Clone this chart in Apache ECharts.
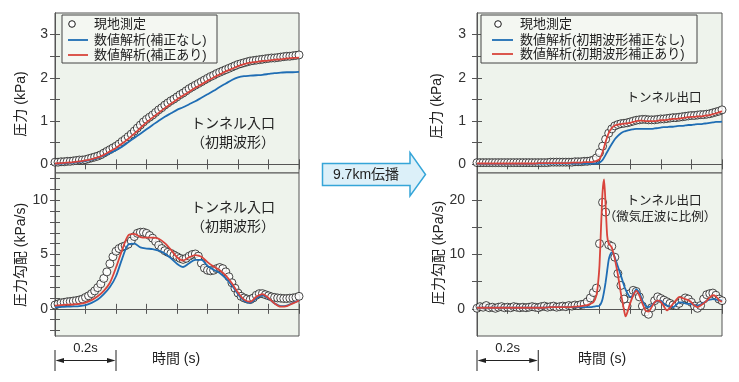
<!DOCTYPE html>
<html><head><meta charset="utf-8">
<script src="https://cdn.jsdelivr.net/npm/echarts@6/dist/echarts.min.js"></script>
<style>html,body{margin:0;padding:0;background:#fff}#c{width:739px;height:382px}</style>
</head><body><div id="c"></div>
<script>
const FONT = "'Liberation Sans','Noto Sans CJK JP',sans-serif";

// time axes (s)
const time01 = [0,0.01,0.02,0.03,0.04,0.05,0.06,0.07,0.08,0.09,
  0.10,0.11,0.12,0.13,0.14,0.15,0.16,0.17,0.18,0.19,
  0.20,0.21,0.22,0.23,0.24,0.25,0.26,0.27,0.28,0.29,
  0.30,0.31,0.32,0.33,0.34,0.35,0.36,0.37,0.38,0.39,
  0.40,0.41,0.42,0.43,0.44,0.45,0.46,0.47,0.48,0.49,
  0.50,0.51,0.52,0.53,0.54,0.55,0.56,0.57,0.58,0.59,
  0.60,0.61,0.62,0.63,0.64,0.65,0.66,0.67,0.68,0.69,
  0.70,0.71,0.72,0.73,0.74,0.75,0.76,0.77,0.78,0.79,0.80];
const time02 = [0,0.02,0.04,0.06,0.08,0.10,0.12,0.14,0.16,0.18,
  0.20,0.22,0.24,0.26,0.28,0.30,0.32,0.34,0.36,0.38,
  0.40,0.42,0.44,0.46,0.48,0.50,0.52,0.54,0.56,0.58,
  0.60,0.62,0.64,0.66,0.68,0.70,0.72,0.74,0.76,0.78,0.80];
const exitGradLineTime = [0,0.02,0.04,0.06,0.08,0.10,0.12,0.14,0.16,0.18,0.20,0.22,0.24,0.26,0.28,0.30,0.32,0.34,0.36,
  0.37,0.38,0.39,
  0.395,0.40,0.405,0.41,0.415,0.42,0.425,0.43,0.435,0.44,0.445,0.45,
  0.46,0.47,0.475,0.48,0.485,0.49,
  0.50,0.51,0.52,0.53,0.54,0.55,0.56,0.57,0.58,0.59,
  0.60,0.61,0.62,0.63,0.64,0.65,0.66,0.67,0.68,0.69,
  0.70,0.71,0.72,0.73,0.74,0.75,0.76,0.77,0.78,0.79,0.80];

// Tunnel entrance: pressure (kPa)
const entrancePressureMeasured = [0.05,0.05,0.06,0.06,0.07,0.07,0.08,0.09,0.10,0.10,
  0.11,0.13,0.15,0.17,0.19,0.22,0.26,0.30,0.34,0.38,
  0.42,0.47,0.53,0.58,0.64,0.70,0.77,0.84,0.91,0.98,
  1.04,1.09,1.14,1.20,1.26,1.31,1.37,1.42,1.47,1.51,
  1.56,1.61,1.65,1.70,1.75,1.79,1.83,1.87,1.91,1.95,
  1.99,2.03,2.06,2.10,2.13,2.16,2.19,2.22,2.25,2.28,
  2.31,2.33,2.35,2.37,2.39,2.40,2.41,2.42,2.43,2.44,
  2.45,2.46,2.46,2.47,2.48,2.49,2.50,2.50,2.51,2.52,2.53];
const entrancePressureNoCorr = [0.01,0.02,0.03,0.04,0.06,0.08,0.11,0.15,0.20,0.26,
  0.33,0.41,0.51,0.61,0.71,0.81,0.91,1.01,1.10,1.18,
  1.26,1.32,1.39,1.46,1.54,1.62,1.70,1.79,1.87,1.95,
  2.01,2.04,2.05,2.06,2.07,2.09,2.11,2.12,2.13,2.13,2.14];
const entrancePressureCorr = [0.02,0.03,0.04,0.05,0.07,0.09,0.12,0.16,0.22,0.30,
  0.38,0.48,0.59,0.71,0.84,0.97,1.08,1.19,1.30,1.40,
  1.50,1.59,1.68,1.77,1.85,1.93,2.01,2.08,2.15,2.21,
  2.27,2.32,2.35,2.37,2.39,2.40,2.42,2.43,2.45,2.46,2.47];

// Tunnel entrance: pressure gradient (kPa/s)
const entranceGradMeasured = [0.35,0.45,0.55,0.60,0.65,0.68,0.72,0.76,0.82,0.90,
  1.05,1.20,1.40,1.65,1.95,2.30,2.80,3.40,4.15,4.80,
  5.30,5.55,5.70,5.80,5.95,6.25,6.65,6.95,7.05,7.05,
  6.95,6.75,6.50,6.20,5.85,5.55,5.35,5.20,5.10,4.95,
  4.80,4.65,4.55,4.65,4.85,5.00,5.05,4.85,4.20,3.75,
  3.55,3.50,3.55,3.70,3.80,3.70,3.40,2.95,2.40,1.90,
  1.45,1.15,1.00,0.90,0.85,1.00,1.25,1.40,1.40,1.30,
  1.20,1.10,1.05,1.00,0.98,0.95,0.95,0.98,1.00,1.05,1.15];
const entranceGradNoCorr = [0.15,0.18,0.20,0.22,0.25,0.35,0.55,0.85,1.35,2.00,
  3.00,4.60,5.90,6.00,5.65,5.55,5.50,5.35,5.10,4.65,
  4.15,3.85,4.20,4.50,4.50,3.95,3.60,3.30,2.80,2.15,
  1.35,0.75,0.55,0.95,1.25,0.95,0.50,0.25,0.30,0.55,0.75];
const entranceGradCorr = [0.30,0.35,0.38,0.40,0.45,0.58,0.80,1.15,1.65,2.40,
  3.80,5.40,6.75,6.90,6.60,6.55,6.55,6.45,6.05,5.45,
  4.75,4.45,4.75,4.95,4.80,4.30,3.90,3.55,3.05,2.35,
  1.50,0.85,0.65,1.10,1.35,1.00,0.50,0.20,0.25,0.50,0.75];

// Tunnel exit: pressure (kPa)
const exitPressureMeasured = [0.04,0.04,0.04,0.04,0.04,0.04,0.04,0.04,0.04,0.04,
  0.04,0.04,0.04,0.04,0.04,0.04,0.04,0.04,0.04,0.04,
  0.04,0.04,0.04,0.04,0.05,0.05,0.05,0.05,0.05,0.05,
  0.05,0.05,0.06,0.06,0.06,0.07,0.07,0.08,0.10,0.15,
  0.27,0.42,0.58,0.72,0.82,0.89,0.92,0.94,0.95,0.96,
  0.98,1.00,1.02,1.03,1.04,1.04,1.03,1.03,1.03,1.04,
  1.05,1.05,1.06,1.07,1.08,1.08,1.09,1.10,1.11,1.12,
  1.13,1.13,1.14,1.15,1.15,1.16,1.17,1.19,1.21,1.23,1.26];
const exitPressureNoCorr = [0.01,0.01,0.01,0.01,0.01,0.01,0.01,0.01,0.01,0.01,
  0.01,0.01,0.01,0.01,0.01,0.01,0.01,0.01,0.01,0.01,
  0.02,0.02,0.02,0.02,0.02,0.02,0.02,0.02,0.02,0.02,
  0.02,0.02,0.02,0.02,0.02,0.02,0.02,0.02,0.02,0.02,
  0.04,0.10,0.22,0.35,0.47,0.58,0.66,0.72,0.76,0.78,
  0.80,0.81,0.82,0.82,0.82,0.82,0.82,0.82,0.83,0.84,
  0.85,0.86,0.86,0.87,0.87,0.88,0.89,0.89,0.90,0.91,
  0.91,0.92,0.93,0.93,0.94,0.95,0.96,0.97,0.98,0.98,0.99];
const exitPressureCorr = [0.02,0.02,0.02,0.02,0.02,0.02,0.02,0.02,0.02,0.02,
  0.02,0.02,0.02,0.02,0.02,0.02,0.02,0.02,0.02,0.02,
  0.03,0.03,0.03,0.03,0.03,0.03,0.03,0.03,0.03,0.03,
  0.03,0.04,0.04,0.04,0.04,0.05,0.05,0.05,0.06,0.08,
  0.12,0.28,0.52,0.72,0.84,0.90,0.92,0.93,0.94,0.95,
  0.96,0.98,1.00,1.01,1.01,1.00,1.00,1.00,1.00,1.01,
  1.02,1.02,1.03,1.04,1.05,1.05,1.06,1.07,1.08,1.09,
  1.10,1.10,1.11,1.11,1.12,1.13,1.14,1.16,1.18,1.20,1.23];

// Tunnel exit: pressure gradient (kPa/s)
const exitGradMeasured = [0.1,0.4,0.3,0.6,0.2,0.3,0.1,0.3,0.4,0.2,
  0.3,0.2,0.4,0.3,0.2,0.3,0.2,0.3,0.4,0.3,
  0.2,0.4,0.5,0.3,0.4,0.5,0.3,0.4,0.5,0.4,
  0.6,0.5,0.7,0.6,0.8,0.9,1.3,2.0,3.0,3.8,
  12.0,19.6,17.8,11.8,11.5,9.5,6.5,4.3,1.8,0.5,
  2.8,3.4,3.2,2.2,0.5,-0.6,-1.0,0.2,1.5,2.2,
  1.9,1.6,1.3,1.0,0.7,0.6,1.0,1.6,2.0,1.8,
  1.2,0.5,0.1,0.6,1.8,2.6,2.8,2.9,2.5,1.8,1.5];
const exitGradNoCorr = [0.2,0.2,0.2,0.2,0.2,0.2,0.2,0.2,0.2,0.2,0.2,0.2,0.3,0.3,0.3,0.3,0.3,0.3,0.3,
  0.3,0.4,0.5,
  0.5,0.6,1.0,1.8,3.2,4.9,7.0,9.0,10.0,10.4,10.1,9.5,
  7.8,6.1,5.2,4.3,3.6,3.0,
  2.2,2.6,3.6,3.0,1.5,0.6,0.3,0.6,1.2,1.4,
  1.5,1.0,0.6,0.4,0.3,0.7,1.2,1.2,1.0,0.9,
  0.9,0.7,0.6,0.8,1.1,1.5,1.7,1.8,1.7,1.6,1.5];
const exitGradCorr = [0.2,0.2,0.2,0.2,0.2,0.2,0.2,0.2,0.2,0.2,0.2,0.2,0.3,0.3,0.3,0.3,0.4,0.5,0.7,
  0.9,1.2,2.5,
  4.5,8.0,15.0,21.5,23.8,19.0,13.5,12.0,11.7,11.3,10.3,9.2,
  6.3,2.8,1.3,-0.2,-1.4,-0.8,
  1.0,2.5,3.3,2.5,1.0,-0.3,-0.5,0.3,1.2,1.5,
  1.3,0.5,-0.3,0.2,0.9,1.6,2.2,2.0,1.8,1.6,
  1.2,0.6,0.3,0.6,1.0,1.5,2.1,2.5,2.3,1.6,1.3];

// tick / label values
const pressureLabels = [0,1,2,3];
const pressureTicks = [0,0.5,1,1.5,2,2.5,3];
const entranceGradLabels = [0,5,10];
const entranceGradTicks = [-2,-1,0,1,2,3,4,5,6,7,8,9,10,11,12];
const exitGradLabels = [0,10,20];
const exitGradTicks = [0,5,10,15,20];

const legendLeft = ['現地測定','数値解析(補正なし)','数値解析(補正あり)'];
const legendRight = ['現地測定','数値解析(初期波形補正なし)','数値解析(初期波形補正あり)'];

const BLUE = '#1f6db4', RED = '#d9443c', FRAME = '#555', BG = '#eef3ec';

const pairs = (t, v) => t.map((x, i) => [x, v[i]]);

const grids = [
  {left:55, top:13, width:244, height:160},
  {left:55, top:173, width:244, height:163},
  {left:477, top:13, width:245, height:160},
  {left:477, top:173, width:245, height:163}
].map(g => Object.assign(g, {show:true, backgroundColor:BG, borderColor:FRAME, borderWidth:1}));

const xAxis = [];
grids.forEach((g, i) => {
  ['bottom','top'].forEach(pos => xAxis.push({
    type:'value', gridIndex:i, position:pos, min:0, max:0.8, interval:0.1,
    axisLine:{show:true, lineStyle:{color:FRAME}},
    axisTick:{show:true, inside:true, length:5, lineStyle:{color:FRAME}},
    axisLabel:{show:false}, splitLine:{show:false}
  }));
});

const yDefs = [
  {min:-0.2, max:3.5, labels:pressureLabels, ticks:pressureTicks, margin:7},
  {min:-2.5, max:12.5, labels:entranceGradLabels, ticks:entranceGradTicks, margin:7},
  {min:-0.2, max:3.5, labels:pressureLabels, ticks:pressureTicks, margin:11},
  {min:-5, max:25, labels:exitGradLabels, ticks:exitGradTicks, margin:12}
];
const yAxis = [];
yDefs.forEach((d, i) => {
  ['left','right'].forEach(pos => yAxis.push({
    type:'value', gridIndex:i, position:pos, min:d.min, max:d.max,
    axisLine:{show:true, lineStyle:{color:FRAME}},
    axisTick:{show:true, inside:true, length:5, customValues:d.ticks, lineStyle:{color:FRAME}},
    axisLabel:{show:pos==='left', customValues:d.labels, margin:d.margin, fontSize:14, color:'#333', fontFamily:FONT},
    splitLine:{show:false}
  }));
});

function circles(name, gi, data) {
  return {name, type:'scatter', xAxisIndex:gi*2, yAxisIndex:gi*2, data,
    symbol:'circle', symbolSize:8,
    itemStyle:{color:'#fff', borderColor:'#1a1a1a', borderWidth:1}, z:2};
}
function curve(name, gi, data, color, smooth) {
  return {name, type:'line', xAxisIndex:gi*2, yAxisIndex:gi*2, data,
    symbol:'none', showSymbol:false, smooth:smooth,
    lineStyle:{color, width:1.8}, itemStyle:{color}, z:3};
}

const series = [
  circles(legendLeft[0], 0, pairs(time01, entrancePressureMeasured)),
  curve(legendLeft[1], 0, pairs(time02, entrancePressureNoCorr), BLUE, 0.3),
  curve(legendLeft[2], 0, pairs(time02, entrancePressureCorr), RED, 0.3),
  circles(legendLeft[0], 1, pairs(time01, entranceGradMeasured)),
  curve(legendLeft[1], 1, pairs(time02, entranceGradNoCorr), BLUE, 0.3),
  curve(legendLeft[2], 1, pairs(time02, entranceGradCorr), RED, 0.3),
  circles(legendRight[0], 2, pairs(time01, exitPressureMeasured)),
  curve(legendRight[1], 2, pairs(time01, exitPressureNoCorr), BLUE, 0.2),
  curve(legendRight[2], 2, pairs(time01, exitPressureCorr), RED, 0.2),
  circles(legendRight[0], 3, pairs(time01, exitGradMeasured)),
  curve(legendRight[1], 3, pairs(exitGradLineTime, exitGradNoCorr), BLUE, 0.2),
  curve(legendRight[2], 3, pairs(exitGradLineTime, exitGradCorr), RED, 0.2)
];

const chart = echarts.init(document.getElementById('c'));
chart.setOption({animation:false, grid:grids, xAxis, yAxis, series});

// ---------- graphics: names, legends, annotations, arrow, time scale ----------
const T = (text, x, y, size, opts) => Object.assign({type:'text', x, y, z:20,
  style:Object.assign({text, fontSize:size, fontFamily:FONT, fill:'#222', align:'center', verticalAlign:'middle'}, opts && opts.style || {})},
  opts && opts.extra || {});
const vText = (text, x, y) => ({type:'text', x, y, rotation:Math.PI/2, z:20,
  style:{text, fontSize:14, fontFamily:FONT, fill:'#222', align:'center', verticalAlign:'middle'}});

function legendBox(x, y, w, h, names, symX, lineX0, lineX1, textX, rows) {
  const els = [{type:'rect', shape:{x, y, width:w, height:h}, z:15,
    style:{fill:'#f4f7f2', stroke:'#444', lineWidth:1}}];
  els.push({type:'circle', shape:{cx:symX, cy:rows[0], r:3.3}, z:16, style:{fill:'#fff', stroke:'#1a1a1a', lineWidth:1}});
  els.push({type:'line', shape:{x1:lineX0, y1:rows[1], x2:lineX1, y2:rows[1]}, z:16, style:{stroke:BLUE, lineWidth:1.8}});
  els.push({type:'line', shape:{x1:lineX0, y1:rows[2], x2:lineX1, y2:rows[2]}, z:16, style:{stroke:RED, lineWidth:1.8}});
  names.forEach((n, i) => els.push(T(n, textX, rows[i], 13, {style:{align:'left'}})));
  return els;
}

function timeScale(xAxisIndex, textCenterX) {
  const a = chart.convertToPixel({xAxisIndex}, 0);
  const b = chart.convertToPixel({xAxisIndex}, 0.2);
  const c = '#222';
  return [
    {type:'line', shape:{x1:a, y1:350, x2:a, y2:371}, style:{stroke:c, lineWidth:1}},
    {type:'line', shape:{x1:b, y1:350, x2:b, y2:371}, style:{stroke:c, lineWidth:1}},
    {type:'line', shape:{x1:a+2, y1:360.5, x2:b-2, y2:360.5}, style:{stroke:c, lineWidth:1}},
    {type:'polygon', shape:{points:[[a+0.5,360.5],[a+9,358],[a+9,363]]}, style:{fill:c}},
    {type:'polygon', shape:{points:[[b-0.5,360.5],[b-9,358],[b-9,363]]}, style:{fill:c}},
    T('0.2s', (a+b)/2, 348, 13),
    T('時間 (s)', textCenterX, 359, 14)
  ];
}

const graphic = [].concat(
  [vText('圧力 (kPa)', 21, 104), vText('圧力勾配 (kPa/s)', 21, 255),
   vText('圧力 (kPa)', 437, 106), vText('圧力勾配 (kPa/s)', 439, 253)],
  legendBox(62, 15, 155, 48, legendLeft, 72, 68, 88, 94, [24, 40, 55]),
  legendBox(481, 15, 216, 48, legendRight, 498, 492, 513, 520, [24, 40, 54]),
  [T('トンネル入口', 233, 124, 14), T('（初期波形）', 233, 143, 14),
   T('トンネル入口', 233, 208, 14), T('（初期波形）', 233, 227, 14),
   T('トンネル出口', 664, 99, 12.5),
   T('トンネル出口', 664, 202, 12.5), T('（微気圧波に比例）', 660, 218, 12.5)],
  [{type:'polygon', z:10, shape:{points:[[322.5,163.5],[410,163.5],[410,152.5],[425.5,174.5],[410,196],[410,185.5],[322.5,185.5]]},
    style:{fill:'#dcf0f9', stroke:'#35a5d8', lineWidth:1.5}},
   T('9.7km伝播', 366, 175, 14)],
  timeScale(2, 176),
  timeScale(6, 602)
);
chart.setOption({graphic});
</script>
</body></html>
